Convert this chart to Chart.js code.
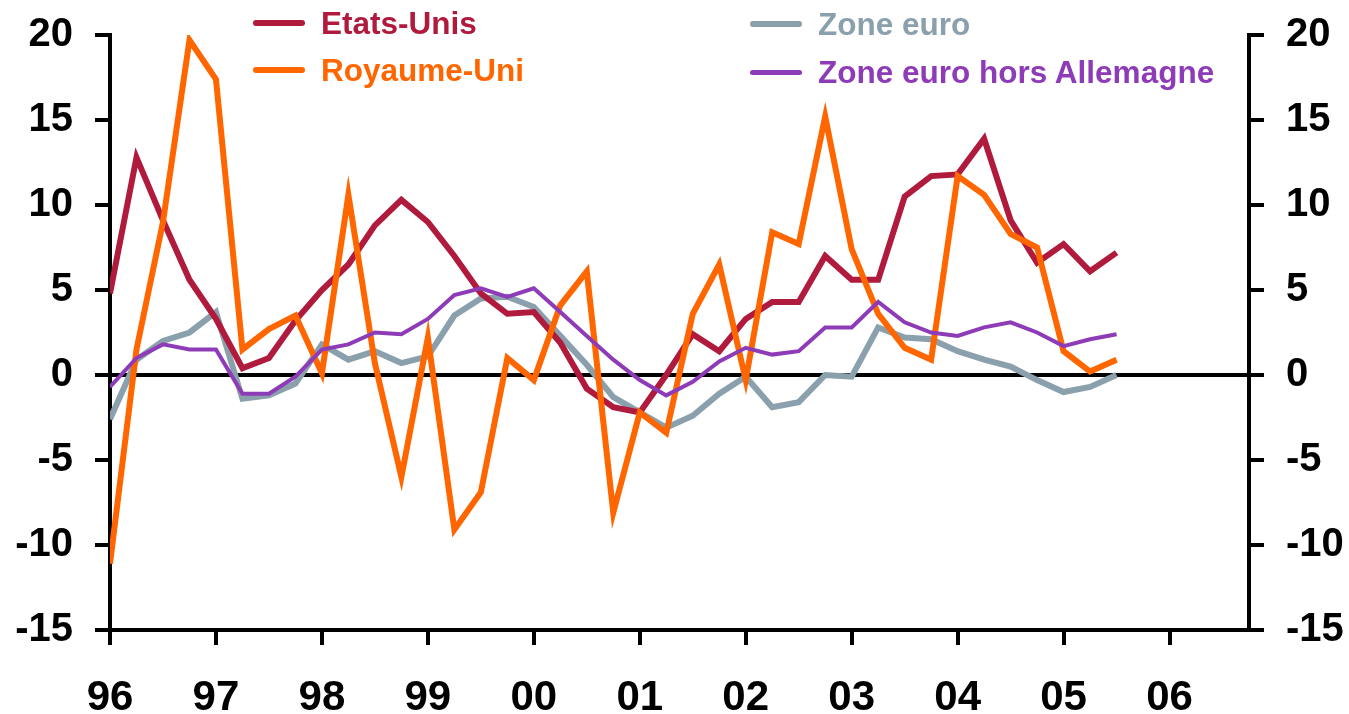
<!DOCTYPE html>
<html lang="fr">
<head>
<meta charset="utf-8">
<title>Croissance - Etats-Unis, Royaume-Uni, Zone euro</title>
<script src="https://cdn.jsdelivr.net/npm/chart.js@4.4.1/dist/chart.umd.min.js"></script>
<style>
    body { margin: 0; background: #fff; }
    .wrap { position: relative; width: 1349px; height: 714px; font-family: "Liberation Sans", Arial, sans-serif; }
    .legend-item { position: absolute; height: 30px; display: flex; align-items: center; font-weight: bold; font-size: 31.5px; line-height: 30px; white-space: nowrap; }
    .legend-item .mark { display: inline-block; width: 52px; border-radius: 3px; margin-right: 16px; }
</style>
</head>
<body>
<div class="wrap">
    <canvas id="chart" width="1349" height="714"></canvas>
    <div id="legend"></div>
</div>
<script>
// Data (quarterly, from 1996 Q1)
const years = ['96', '97', '98', '99', '00', '01', '02', '03', '04', '05', '06'];
const etatsUnis = [4.8, 12.8, 9.1, 5.6, 3.3, 0.4, 1.0, 3.2, 5.0, 6.5, 8.8, 10.3, 9.0, 7.0, 4.8, 3.6, 3.7, 1.9, -0.8, -1.9, -2.2, 0.0, 2.4, 1.4, 3.3, 4.3, 4.3, 7.0, 5.6, 5.6, 10.5, 11.7, 11.8, 13.9, 9.1, 6.6, 7.7, 6.1, 7.2];
const royaumeUni = [-11.1, 1.5, 9.0, 19.7, 17.4, 1.5, 2.7, 3.5, 0.1, 10.6, 0.7, -6.0, 2.2, -9.1, -6.9, 1.0, -0.3, 4.1, 6.1, -8.1, -2.2, -3.4, 3.6, 6.5, -0.3, 8.4, 7.7, 15.2, 7.4, 3.6, 1.6, 0.9, 11.7, 10.6, 8.3, 7.5, 1.4, 0.2, 0.9];
const zoneEuro = [-2.6, 0.9, 2.0, 2.5, 3.7, -1.4, -1.2, -0.5, 1.8, 0.9, 1.4, 0.7, 1.1, 3.5, 4.5, 4.6, 4.0, 2.3, 0.6, -1.3, -2.2, -3.1, -2.4, -1.1, -0.1, -1.9, -1.6, 0.0, -0.1, 2.8, 2.2, 2.1, 1.4, 0.9, 0.5, -0.3, -1.0, -0.7, 0.0];
const horsAllemagne = [-0.7, 1.0, 1.8, 1.5, 1.5, -1.1, -1.1, -0.1, 1.5, 1.8, 2.5, 2.4, 3.3, 4.7, 5.1, 4.6, 5.1, 3.7, 2.3, 0.9, -0.3, -1.2, -0.4, 0.8, 1.6, 1.2, 1.4, 2.8, 2.8, 4.3, 3.1, 2.5, 2.3, 2.8, 3.1, 2.5, 1.7, 2.1, 2.4];
const yTicks = [-15, -10, -5, 0, 5, 10, 15, 20];

document.addEventListener('DOMContentLoaded', function() {
    const toPoints = arr => arr.map((v, i) => ({ x: i, y: v }));

    const series = [
        { label: 'Etats-Unis', data: etatsUnis, color: '#B01A3C', width: 6, order: 3 },
        { label: 'Royaume-Uni', data: royaumeUni, color: '#FF6600', width: 6, order: 2 },
        { label: 'Zone euro', data: zoneEuro, color: '#8AA0AC', width: 6, order: 4 },
        { label: 'Zone euro hors Allemagne', data: horsAllemagne, color: '#8E3BB8', width: 4, order: 1 }
    ];

    const font = 'Liberation Sans, Arial, sans-serif';

    const yAxis = (position, zeroLine) => ({
        type: 'linear',
        position: position,
        min: yTicks[0],
        max: yTicks[yTicks.length - 1],
        afterBuildTicks: scale => { scale.ticks = yTicks.map(v => ({ value: v })); },
        afterFit: scale => {
            scale.width = position === 'left' ? 110 : 100;
            // labels may overflow the plot; keep plot edges fixed
            scale.paddingTop = 0;
            scale.paddingBottom = 0;
        },
        border: { display: true, color: '#000', width: 4 },
        grid: {
            drawOnChartArea: zeroLine,
            color: ctx => (ctx.tick && ctx.tick.value === 0) ? '#000' : 'rgba(0,0,0,0)',
            lineWidth: 4,
            tickColor: '#000',
            tickWidth: 4,
            tickLength: 15
        },
        ticks: {
            padding: 22,
            color: '#000',
            font: { family: font, size: 40, weight: 'bold' }
        }
    });

    const ctx = document.getElementById('chart').getContext('2d');
    new Chart(ctx, {
        type: 'line',
        data: {
            datasets: series.map(s => ({
                label: s.label,
                data: toPoints(s.data),
                borderColor: s.color,
                backgroundColor: s.color,
                borderWidth: s.width,
                pointRadius: 0,
                tension: 0,
                order: s.order,
                yAxisID: 'y'
            }))
        },
        options: {
            responsive: false,
            animation: false,
            devicePixelRatio: 1,
            layout: { padding: { top: 35, right: 0, bottom: 0, left: 0 } },
            plugins: { legend: { display: false }, tooltip: { enabled: false } },
            scales: {
                x: {
                    type: 'linear',
                    min: 0,
                    max: 43,
                    afterFit: scale => { scale.height = 84; },
                    border: { display: true, color: '#000', width: 4 },
                    grid: {
                        drawOnChartArea: false,
                        color: '#000',
                        lineWidth: 4,
                        tickLength: 15
                    },
                    ticks: {
                        stepSize: 4,
                        includeBounds: false,
                        autoSkip: false,
                        maxRotation: 0,
                        padding: 28,
                        color: '#000',
                        font: { family: font, size: 42, weight: 'bold' },
                        callback: value => years[value / 4] || ''
                    }
                },
                y: yAxis('left', true),
                y2: yAxis('right', false)
            }
        }
    });

    // Legend (two columns, text in series colour)
    const slots = [
        { left: 253, top: 8 },
        { left: 253, top: 55 },
        { left: 750, top: 9 },
        { left: 750, top: 57 }
    ];
    const legend = document.getElementById('legend');
    series.forEach((s, i) => {
        const item = document.createElement('div');
        item.className = 'legend-item';
        item.style.left = slots[i].left + 'px';
        item.style.top = slots[i].top + 'px';
        item.style.color = s.color;
        item.innerHTML = '<span class="mark" style="height:' + (s.width === 4 ? 5 : 6) + 'px;background:' + s.color + '"></span>' + s.label;
        legend.appendChild(item);
    });
});
</script>
</body>
</html>
